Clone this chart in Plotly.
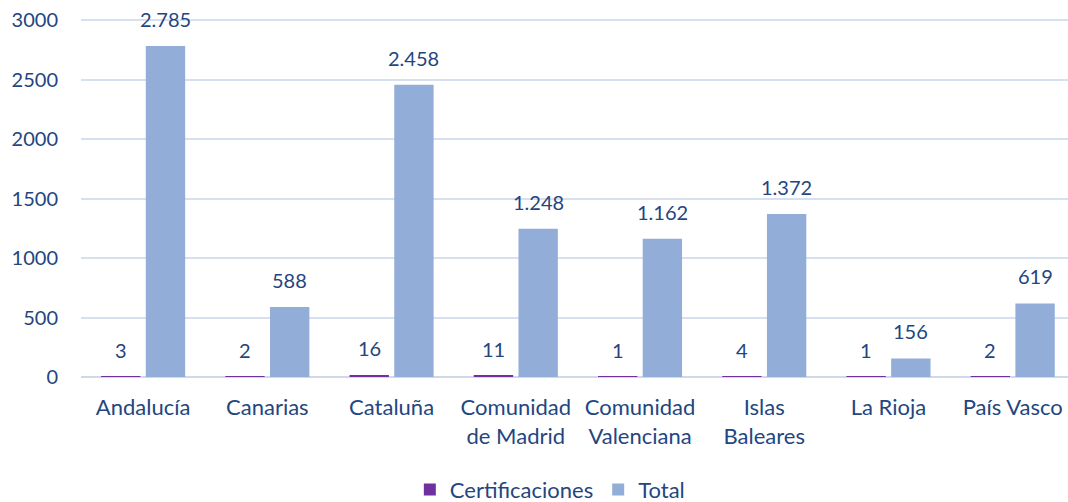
import plotly.graph_objects as go

categories = ["Andalucía", "Canarias", "Cataluña", "Comunidad<br>de Madrid",
              "Comunidad<br>Valenciana", "Islas<br>Baleares", "La Rioja", "País Vasco"]
certificaciones = [3, 2, 16, 11, 1, 4, 1, 2]
total = [2785, 588, 2458, 1248, 1162, 1372, 156, 619]
y_ticks = [0, 500, 1000, 1500, 2000, 2500, 3000]


def fmt(v):
    return f"{v:,}".replace(",", ".")


TXT = "#23467F"
FONT = "Lato"

W, H = 1068, 502
BARGAP, GROUPGAP = 0.28, 0.12
X_RANGE = [-0.5, 7.445]
ML, MT, MB = 81, 17.6, 125

fig = go.Figure()
fig.add_trace(go.Bar(
    name="Certificaciones", x=categories, y=certificaciones,
    marker=dict(color="#7030A0", line=dict(width=0)),
))
fig.add_trace(go.Bar(
    name="Total", x=categories, y=total,
    marker=dict(color="#92ADD7", line=dict(width=0)),
))

# data labels above each bar
px_per_cat = (W - ML) / (X_RANGE[1] - X_RANGE[0])
slot = px_per_cat * (1 - BARGAP) / 2
for series, sign in ((certificaciones, -1), (total, 1)):
    for cat, v in zip(categories, series):
        fig.add_annotation(x=cat, y=v, text=fmt(v), showarrow=False,
                           xshift=sign * slot / 2, yshift=27, yanchor="middle",
                           font=dict(size=20, color=TXT, family=FONT))

fig.update_layout(
    width=W, height=H,
    margin=dict(l=ML, r=0, t=MT, b=MB, autoexpand=False),
    paper_bgcolor="white", plot_bgcolor="white",
    barmode="group", bargap=BARGAP, bargroupgap=GROUPGAP,
    font=dict(family=FONT, color=TXT, size=22),
    legend=dict(orientation="h", x=0.475, xanchor="center", y=-0.314, yanchor="middle",
                font=dict(size=22, color=TXT)),
    xaxis=dict(range=X_RANGE, showgrid=False, ticks="", showline=False,
               automargin=False, tickfont=dict(size=22, color=TXT),
               ticklabelstandoff=15),
    yaxis=dict(range=[0, 3020], tickvals=y_ticks, showgrid=True,
               gridcolor="#D6E0EE", gridwidth=2, zeroline=True,
               zerolinecolor="#D0D9E8", zerolinewidth=2, ticks="",
               automargin=False,
               tickfont=dict(size=20, color=TXT), ticklabelstandoff=22),
    showlegend=True,
)

fig.write_html("out.html", config={"displayModeBar": False},
               post_script="document.body.style.margin='0';document.body.style.overflow='hidden';")
